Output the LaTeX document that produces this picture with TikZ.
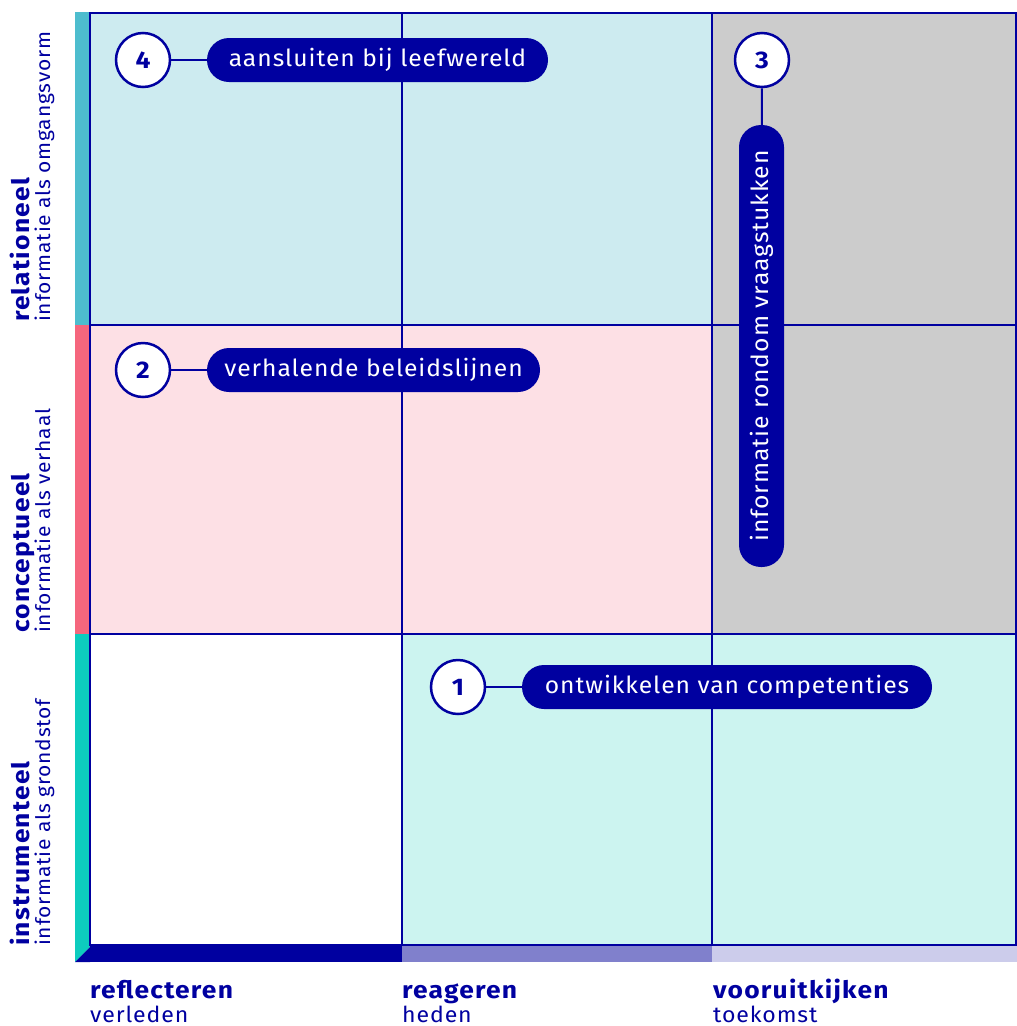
\documentclass[tikz,border=0pt]{standalone}
\usepackage{fontspec}
\setmainfont{Fira Sans}[FakeStretch=1.05, LetterSpace=4]
\newfontfamily\boldfam{Fira Sans}[FakeStretch=1.1, LetterSpace=5]
\definecolor{navy}{RGB}{0,0,160}
\definecolor{cellblue}{RGB}{205,235,240}
\definecolor{cellpink}{RGB}{253,224,229}
\definecolor{cellgray}{RGB}{204,204,204}
\definecolor{cellteal}{RGB}{204,244,240}
\definecolor{barblue}{RGB}{77,189,206}
\definecolor{barpink}{RGB}{245,102,125}
\definecolor{barteal}{RGB}{13,204,190}
\definecolor{botone}{RGB}{0,0,160}
\definecolor{bottwo}{RGB}{128,128,204}
\definecolor{botthree}{RGB}{204,204,235}
\tikzset{
  gridline/.style={draw=navy, line width=2pt},
  numcircle/.style={circle, draw=navy, fill=white, line width=2.5pt, minimum size=54pt, inner sep=0pt, font=\boldfam\bfseries\fontsize{24}{28}\selectfont, text=navy},
  pill/.style={fill=navy, rounded corners=22pt, minimum height=44pt, inner sep=0pt, text=white, font=\fontsize{23.5}{27}\selectfont},
  link/.style={draw=navy, line width=2pt},
  axisbold/.style={font=\boldfam\bfseries\fontsize{24}{28}\selectfont, text=navy, inner sep=0pt},
  axislight/.style={font=\fontsize{22}{26}\selectfont, text=navy, inner sep=0pt},
  sidelight/.style={font=\fontsize{20}{24}\selectfont, text=navy, inner sep=0pt}
}
\begin{document}
\begin{tikzpicture}[x=1pt,y=-1pt]
\useasboundingbox (0,0) rectangle (1017,1026);
% cells
\fill[cellblue] (90,13) rectangle (712,325);
\fill[cellgray] (712,13) rectangle (1017,634);
\fill[cellpink] (90,325) rectangle (712,634);
\fill[white] (90,634) rectangle (402,946);
\fill[cellteal] (402,634) rectangle (1017,946);
% left bar
\fill[barblue] (75,12) rectangle (90,325);
\fill[barpink] (75,325) rectangle (90,634);
\fill[barteal] (75,634) rectangle (90,947);
\fill[barteal] (75,947) -- (90,947) -- (75,962) -- cycle;
\fill[botone] (90,947) -- (90,962) -- (75,962) -- cycle;
% bottom bar
\fill[botone] (90,946) rectangle (402,962);
\fill[bottwo] (402,946) rectangle (712,962);
\fill[botthree] (712,946) rectangle (1017,962);
% grid lines
\draw[gridline] (90,13) -- (1017,13);
\draw[gridline] (90,325) -- (1017,325);
\draw[gridline] (90,634) -- (1017,634);
\draw[gridline] (90,945) -- (1017,945);
\draw[gridline] (90,12) -- (90,946);
\draw[gridline] (402,12) -- (402,946);
\draw[gridline] (712,12) -- (712,946);
\draw[gridline] (1016,12) -- (1016,946);
% markers
\node[numcircle] (c4) at (143,60) {4};
\node[pill, minimum width=341pt] (p4) at (377.5,60) {aansluiten bij leefwereld};
\draw[link] (c4) -- (p4);
\node[numcircle] (c2) at (143,370) {2};
\node[pill, minimum width=333pt] (p2) at (373.5,370) {verhalende beleidslijnen};
\draw[link] (c2) -- (p2);
\node[numcircle] (c1) at (458,687) {1};
\node[pill, minimum width=410pt] (p1) at (727,687) {ontwikkelen van competenties};
\draw[link] (c1) -- (p1);
\node[numcircle] (c3) at (762,60) {3};
\node[pill, minimum width=442pt, minimum height=45pt, rotate=90] (p3) at (761.5,346) {informatie rondom vraagstukken};
\draw[link] (c3) -- (p3);
% left axis labels
\node[axisbold, rotate=90, anchor=base west] (lr) at (29.5,322) {relationeel};
\node[sidelight, rotate=90, anchor=base west] (lro) at (50,322) {informatie als omgangsvorm};
\node[axisbold, rotate=90, anchor=base west] (lc) at (29.5,633) {conceptueel};
\node[sidelight, rotate=90, anchor=base west] (lco) at (50,633) {informatie als verhaal};
\node[axisbold, rotate=90, anchor=base west] (li) at (29.5,946) {instrumenteel};
\node[sidelight, rotate=90, anchor=base west] (lio) at (50,946) {informatie als grondstof};
% bottom axis labels
\node[axisbold, anchor=base west] (br) at (90,998) {reflecteren};
\node[axislight, anchor=base west] (brv) at (90,1022) {verleden};
\node[axisbold, anchor=base west] (bg) at (402,998) {reageren};
\node[axislight, anchor=base west] (bgh) at (402,1022) {heden};
\node[axisbold, anchor=base west] (bv) at (713,998) {vooruitkijken};
\node[axislight, anchor=base west] (bvt) at (713,1022) {toekomst};
\end{tikzpicture}
\end{document}
